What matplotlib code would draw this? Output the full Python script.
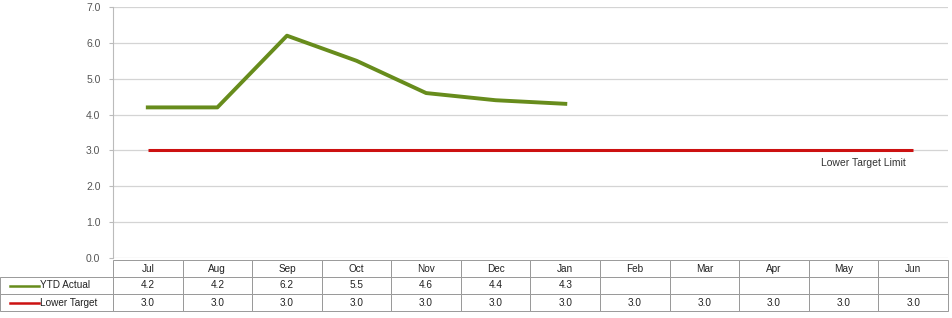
import matplotlib.pyplot as plt
from matplotlib.lines import Line2D

months = ["Jul", "Aug", "Sep", "Oct", "Nov", "Dec", "Jan", "Feb", "Mar", "Apr", "May", "Jun"]
ytd_actual = [4.2, 4.2, 6.2, 5.5, 4.6, 4.4, 4.3]
lower_target = [3.0] * 12
row_labels = ["YTD Actual", "Lower Target"]
yticks = [0, 1, 2, 3, 4, 5, 6, 7]

green = "#678c1c"
red = "#cc1111"

plt.rcParams["font.family"] = ["Liberation Sans", "DejaVu Sans"]

fig = plt.figure(figsize=(9.52, 3.18), dpi=100)
ax = fig.add_axes([113 / 952, 60 / 318, 835 / 952, 251 / 318])

x_act = list(range(len(ytd_actual)))
x_all = list(range(len(months)))
ax.plot(x_all, lower_target, color=red, lw=2.2, solid_capstyle="butt")
ax.plot(x_act, ytd_actual, color=green, lw=2.8, solid_joinstyle="round")
ax.text(10.28, 2.8, "Lower Target Limit", fontsize=7.5, color="#333333", ha="center", va="top")

ax.set_xlim(-0.5, 11.5)
ax.set_ylim(0, 7)
ax.set_yticks(yticks)
ax.set_yticklabels([f"{v:.1f}" for v in yticks], fontsize=7.5, color="#555555")
ax.tick_params(axis="y", length=3, color="#bbbbbb", pad=6)
ax.set_xticks([])
ax.grid(axis="y", color="#d4d4d4", lw=0.9)
ax.set_axisbelow(True)
for s in ["top", "right", "bottom"]:
    ax.spines[s].set_visible(False)
ax.spines["left"].set_color("#bbbbbb")

# data table under the plot (first column holds the row labels)
tax = fig.add_axes([0, 7 / 318, 948 / 952, 51 / 318])
tax.axis("off")
cell_text = [
    [row_labels[0]] + [f"{v:.1f}" for v in ytd_actual] + [""] * (len(months) - len(ytd_actual)),
    [row_labels[1]] + [f"{v:.1f}" for v in lower_target],
]
tbl = tax.table(cellText=cell_text, colLabels=[""] + months, cellLoc="center",
                colWidths=[113 / 948] + [69.6 / 948] * 12, bbox=[0, 0, 1, 1])
tbl.auto_set_font_size(False)
for (r, c), cell in tbl.get_celld().items():
    cell.set_fontsize(7.2)
    cell.set_edgecolor("#999999")
    cell.set_linewidth(0.7)
    cell.get_text().set_color("#222222")
    if c == 0:
        cell.PAD = 0.35
        cell.get_text().set_ha("left")
        cell._loc = "left"
        if r == 0:
            cell.set_linewidth(0)
            cell.set_facecolor("none")

# legend keys inside the row label cells
tax.add_line(Line2D([10 / 948, 39 / 948], [0.5, 0.5], color=green, lw=1.8))
tax.add_line(Line2D([10 / 948, 39 / 948], [1 / 6, 1 / 6], color=red, lw=1.8))

fig.savefig("out.png", dpi=100)
